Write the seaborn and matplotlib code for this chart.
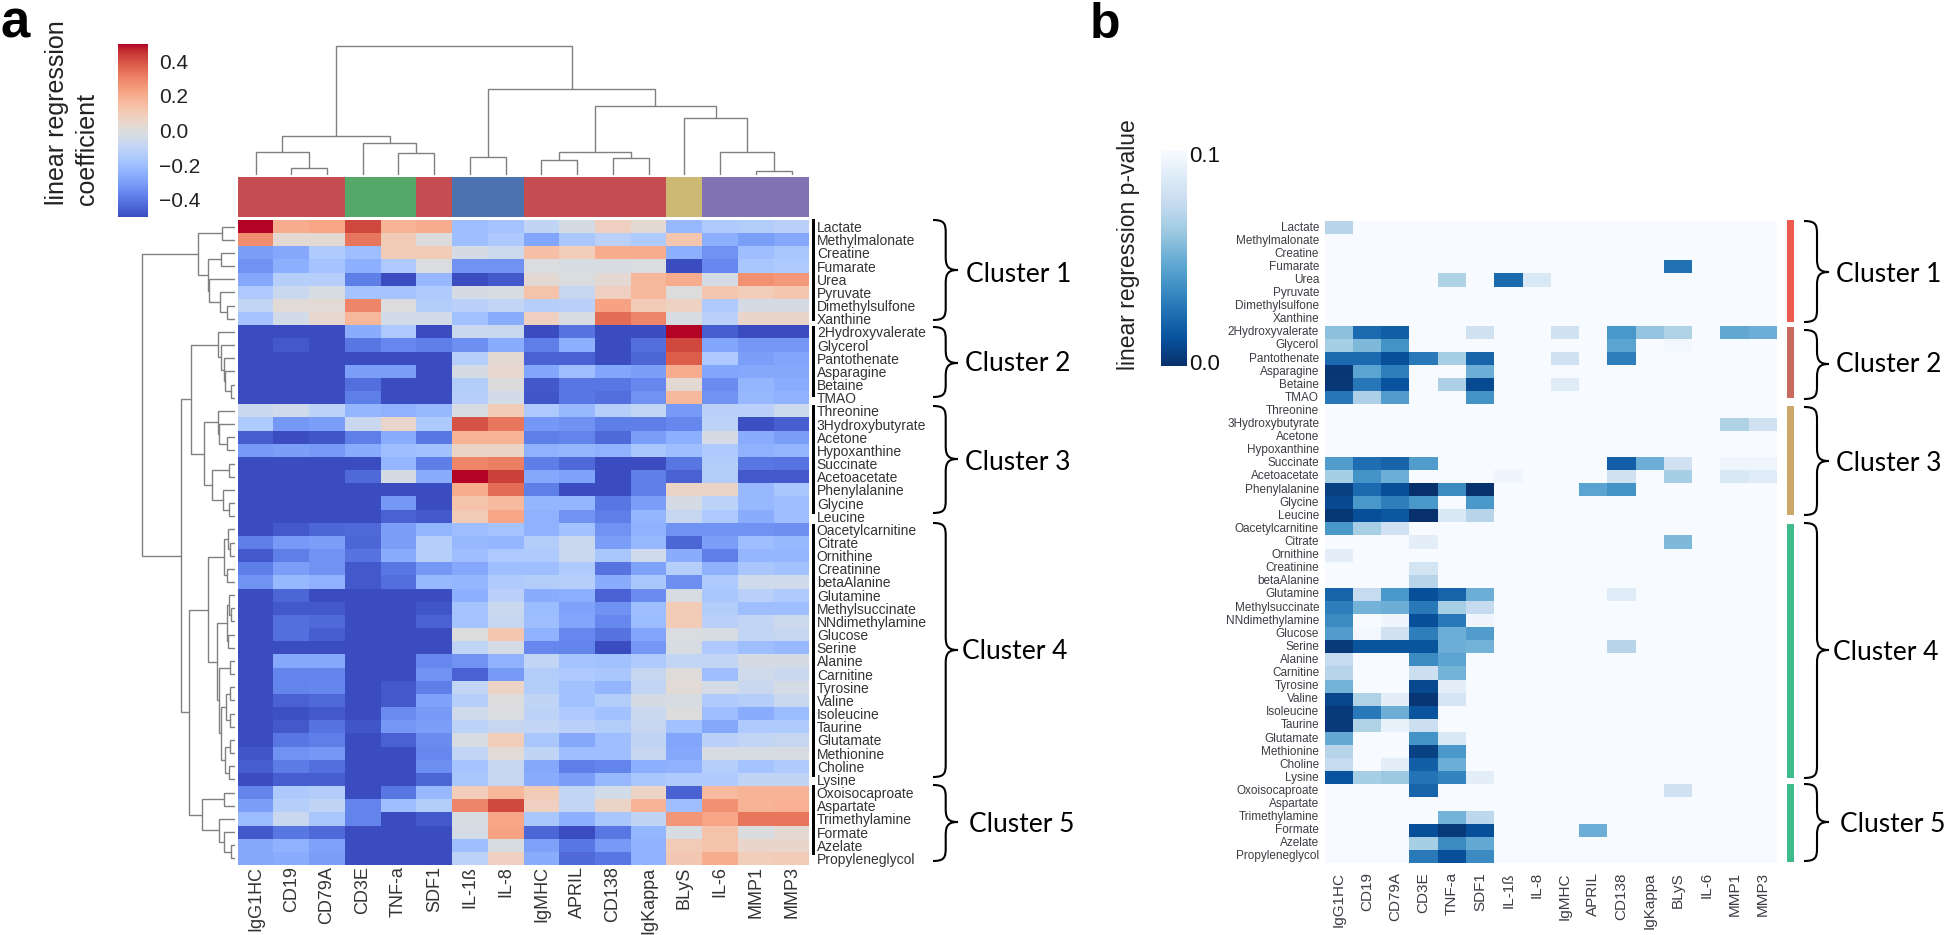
"""
Metabolite / immune marker regression heatmaps (panel a coefficients, panel b p-values)
"""
import matplotlib
matplotlib.use("Agg")
import matplotlib.pyplot as plt
from matplotlib.colors import ListedColormap
from matplotlib.patches import PathPatch, Rectangle
from matplotlib.path import Path
from matplotlib.transforms import Affine2D
import numpy as np
import pandas as pd
import seaborn as sns

sns.set_style("white")
plt.rcParams["font.family"] = ["Liberation Sans", "DejaVu Sans"]

W, H = 1946, 935

markers = ["IgG1HC", "CD19", "CD79A", "CD3E", "TNF-a", "SDF1", "IL-1ß", "IL-8",
           "IgMHC", "APRIL", "CD138", "IgKappa", "BLyS", "IL-6", "MMP1", "MMP3"]
metabolites = ["Lactate", "Methylmalonate", "Creatine", "Fumarate", "Urea", "Pyruvate",
               "Dimethylsulfone", "Xanthine",
               "2Hydroxyvalerate", "Glycerol", "Pantothenate", "Asparagine", "Betaine", "TMAO",
               "Threonine", "3Hydroxybutyrate", "Acetone", "Hypoxanthine", "Succinate",
               "Acetoacetate", "Phenylalanine", "Glycine", "Leucine",
               "Oacetylcarnitine", "Citrate", "Ornithine", "Creatinine", "betaAlanine",
               "Glutamine", "Methylsuccinate", "NNdimethylamine", "Glucose", "Serine",
               "Alanine", "Carnitine", "Tyrosine", "Valine", "Isoleucine", "Taurine",
               "Glutamate", "Methionine", "Choline", "Lysine",
               "Oxoisocaproate", "Aspartate", "Trimethylamine", "Formate", "Azelate",
               "Propyleneglycol"]

coef_cluster1 = [
    [.5, .2, .22, .42, .18, .2, -.2, -.18, -.1, -.03, .08, .03, -.22, -.15, -.14, -.12],
    [.28, .03, .03, .33, .1, 0, -.2, -.16, -.28, -.17, -.12, -.15, .12, -.25, -.3, -.27],
    [-.3, -.27, -.15, -.2, .1, .1, -.03, -.06, .14, .09, .2, .2, -.25, -.33, -.2, -.17],
    [-.33, -.25, -.18, -.25, -.16, -.01, -.33, -.33, -.01, -.02, -.02, -.01, -.5, -.36, -.17, -.15],
    [-.27, -.13, -.13, -.38, -.5, -.22, -.5, -.47, .03, -.01, .03, .17, .2, -.03, .27, .25],
    [-.16, -.07, -.02, -.18, -.18, -.15, -.03, -.02, .13, -.08, .08, .17, 0, .12, .09, .12],
    [-.09, .02, .02, .3, 0, -.14, -.12, -.09, -.13, -.12, .23, .1, .07, -.15, -.03, -.03],
    [-.18, -.04, .04, .17, -.04, -.04, -.19, -.26, .08, -.02, .35, .3, -.02, -.12, .05, .05],
]
coef_cluster2 = [
    [-.5, -.5, -.5, -.26, -.16, -.5, -.07, -.07, -.5, -.41, -.5, -.5, .5, -.46, -.5, -.5],
    [-.5, -.47, -.5, -.4, -.36, -.38, -.34, -.26, -.38, -.25, -.5, -.42, .42, -.28, -.32, -.32],
    [-.5, -.5, -.5, -.5, -.5, -.5, -.13, .03, -.45, -.45, -.5, -.44, .38, -.16, -.3, -.28],
    [-.5, -.5, -.5, -.3, -.3, -.5, -.03, .04, -.28, -.2, -.28, -.3, .2, -.28, -.27, -.27],
    [-.5, -.5, -.5, -.42, -.5, -.5, -.14, 0, -.47, -.4, -.4, -.36, .03, -.35, -.23, -.26],
    [-.5, -.5, -.5, -.38, -.5, -.5, -.13, -.04, -.48, -.4, -.42, -.33, .17, -.33, -.22, -.24],
]
coef_cluster3 = [
    [-.07, -.05, -.11, -.23, -.24, -.22, -.02, .1, -.16, -.22, -.13, -.09, -.31, -.12, -.12, -.06],
    [-.15, -.32, -.3, -.07, .05, -.16, .4, .33, -.32, -.33, -.38, -.38, -.36, -.11, -.49, -.46],
    [-.46, -.5, -.48, -.38, -.26, -.4, .18, .18, -.38, -.37, -.43, -.3, -.25, -.03, -.26, -.3],
    [-.31, -.3, -.31, -.26, -.2, -.19, .06, .06, -.24, -.23, -.24, -.17, -.2, -.16, -.24, -.23],
    [-.5, -.5, -.5, -.5, -.23, -.38, .3, .31, -.38, -.43, -.5, -.5, -.4, -.14, -.4, -.41],
    [-.5, -.5, -.5, -.43, -.03, -.26, .5, .43, -.27, -.29, -.5, -.38, -.45, -.14, -.47, -.47],
    [-.5, -.5, -.5, -.5, -.5, -.5, .2, .35, -.38, -.5, -.5, -.38, .06, .06, -.22, -.17],
    [-.5, -.5, -.5, -.5, -.32, -.5, .13, .16, -.23, -.23, -.4, -.3, -.03, -.11, -.22, -.2],
    [-.5, -.5, -.5, -.5, -.45, -.47, .1, .22, -.24, -.33, -.38, -.23, -.08, -.16, -.26, -.2],
]
coef_cluster4 = [
    [-.5, -.47, -.44, -.43, -.3, -.23, -.2, -.18, -.24, -.19, -.33, -.24, -.33, -.33, -.33, -.34],
    [-.38, -.31, -.3, -.44, -.3, -.13, -.22, -.23, -.14, -.07, -.3, -.22, -.44, -.3, -.2, -.22],
    [-.47, -.38, -.33, -.41, -.26, -.13, -.2, -.16, -.15, -.07, -.17, -.05, -.26, -.38, -.23, -.23],
    [-.38, -.3, -.33, -.47, -.4, -.32, -.27, -.2, -.2, -.15, -.41, -.29, -.13, -.24, -.17, -.19],
    [-.33, -.22, -.24, -.47, -.42, -.22, -.23, -.15, -.14, -.13, -.26, -.17, -.34, -.15, -.05, -.05],
    [-.5, -.44, -.5, -.5, -.5, -.5, -.25, -.12, -.26, -.25, -.45, -.35, -.02, -.17, -.12, -.15],
    [-.5, -.47, -.47, -.5, -.5, -.48, -.18, -.07, -.21, -.29, -.33, -.2, .1, -.14, -.2, -.2],
    [-.5, -.42, -.43, -.5, -.5, -.45, -.18, -.08, -.2, -.28, -.36, -.21, .1, -.12, -.09, -.06],
    [-.5, -.42, -.46, -.5, -.5, -.5, 0, .12, -.24, -.36, -.41, -.28, -.01, -.02, -.09, -.08],
    [-.5, -.5, -.5, -.5, -.5, -.5, -.1, -.03, -.36, -.37, -.5, -.32, -.02, -.16, -.2, -.22],
    [-.5, -.27, -.27, -.5, -.5, -.36, -.33, -.24, -.09, -.18, -.19, -.15, -.09, -.09, -.03, -.03],
    [-.5, -.37, -.37, -.5, -.5, -.33, -.45, -.31, -.14, -.16, -.17, -.08, .01, -.2, -.05, -.07],
    [-.5, -.37, -.36, -.5, -.47, -.38, -.09, .06, -.14, -.19, -.23, -.09, .02, -.03, -.07, -.03],
    [-.5, -.45, -.43, -.5, -.47, -.29, -.13, 0, -.1, -.19, -.14, -.03, -.02, -.15, -.13, -.07],
    [-.5, -.49, -.47, -.5, -.35, -.31, -.05, -.01, -.11, -.16, -.19, -.07, 0, -.2, -.26, -.21],
    [-.5, -.47, -.41, -.48, -.32, -.3, -.11, -.08, -.09, -.12, -.14, -.08, -.19, -.27, -.15, -.15],
    [-.5, -.4, -.38, -.5, -.45, -.35, -.02, .09, -.17, -.27, -.2, -.1, -.28, -.12, -.09, -.08],
    [-.48, -.33, -.32, -.5, -.5, -.36, -.09, .02, -.1, -.2, -.2, -.08, -.27, -.02, -.02, -.02],
    [-.46, -.39, -.42, -.5, -.5, -.34, -.18, -.08, -.27, -.38, -.37, -.25, -.24, -.13, -.18, -.15],
    [-.5, -.46, -.46, -.5, -.5, -.44, -.17, -.08, -.26, -.3, -.22, -.17, -.15, -.15, -.1, -.1],
]
coef_cluster5 = [
    [-.37, -.16, -.14, -.5, -.4, -.22, .09, .17, .1, -.09, -.04, .06, -.45, .16, .18, .18],
    [-.3, -.13, -.1, -.37, -.2, -.14, .3, .42, .08, -.09, .06, .18, -.2, .27, .18, .19],
    [-.21, -.07, -.17, -.37, -.5, -.47, -.02, .22, -.17, -.25, -.17, -.1, .26, .22, .33, .33],
    [-.47, -.4, -.43, -.5, -.5, -.5, -.03, .23, -.44, -.5, -.4, -.23, -.02, .13, -.01, .03],
    [-.27, -.24, -.29, -.5, -.5, -.5, -.2, -.02, -.29, -.4, -.31, -.24, .1, .13, .05, .05],
    [-.27, -.26, -.3, -.5, -.5, -.5, -.11, .08, -.26, -.43, -.4, -.24, .11, .2, .09, .1],
]

# 0.1 = not significant, shown at the pale end of the colour scale
N = 0.1
pval_cluster1 = [
    [.07, N, N, N, N, N, N, N, N, N, N, N, N, N, N, N],
    [N] * 16,
    [N] * 16,
    [N, N, N, N, N, N, N, N, N, N, N, N, .025, N, N, N],
    [N, N, N, N, .068, N, .022, .085, N, N, N, N, N, N, N, N],
    [N] * 16,
    [N] * 16,
    [N] * 16,
]
pval_cluster2 = [
    [.058, .022, .018, N, N, .08, N, N, .08, N, .04, .06, .068, N, .047, .05],
    [.065, .055, .038, N, N, N, N, N, N, N, .045, N, .097, N, N, N],
    [.022, .022, .012, .028, .065, .02, N, N, .08, N, .03, N, N, N, N, N],
    [.002, .045, .03, N, N, .05, N, N, N, N, N, N, N, N, N, N],
    [.003, .027, .013, N, .067, .01, N, N, .088, N, N, N, N, N, N, N],
    [.027, .067, .042, N, N, .038, N, N, N, N, N, N, N, N, N, N],
]
pval_cluster3 = [
    [N] * 16,
    [N, N, N, N, N, N, N, N, N, N, N, N, N, N, .068, .08],
    [N] * 16,
    [N] * 16,
    [.042, .024, .02, .042, N, N, N, N, N, N, .018, .05, .08, N, .095, .095],
    [.065, .038, .05, N, N, N, .095, N, N, N, .08, N, .065, N, .085, .088],
    [.006, .022, .012, 0, .035, .001, N, N, N, .045, .038, N, N, N, N, N],
    [.01, .04, .03, .04, N, .04, N, N, N, N, N, N, N, N, N, N],
    [.003, .012, .015, 0, .085, .07, N, N, N, N, N, N, N, N, N, N],
]
pval_cluster4 = [
    [.04, .065, .08, N, N, N, N, N, N, N, N, N, N, N, N, N],
    [N, N, N, .09, N, N, N, N, N, N, N, N, .055, N, N, N],
    [.09, N, N, N, N, N, N, N, N, N, N, N, N, N, N, N],
    [N, N, N, .082, N, N, N, N, N, N, N, N, N, N, N, N],
    [N, N, N, .07, N, N, N, N, N, N, N, N, N, N, N, N],
    [.02, .075, .04, .012, .02, .05, N, N, N, N, .088, N, N, N, N, N],
    [.03, .052, .05, .028, .065, .075, N, N, N, N, N, N, N, N, N, N],
    [.035, N, .095, .012, .028, .095, N, N, N, N, N, N, N, N, N, N],
    [.042, .097, .08, .03, .05, .042, N, N, N, N, N, N, N, N, N, N],
    [.004, .014, .014, .014, .05, .052, N, N, N, N, .07, N, N, N, N, N],
    [.075, N, N, .035, .045, N, N, N, N, N, N, N, N, N, N, N],
    [.07, N, N, .078, .052, N, N, N, N, N, N, N, N, N, N, N],
    [.052, N, N, .009, .09, N, N, N, N, N, N, N, N, N, N, N],
    [.008, .068, .09, .002, .083, N, N, N, N, N, N, N, N, N, N, N],
    [.004, .028, .05, .014, N, N, N, N, N, N, N, N, N, N, N, N],
    [.004, .068, .092, .078, N, N, N, N, N, N, N, N, N, N, N, N],
    [.048, N, N, .038, .085, N, N, N, N, N, N, N, N, N, N, N],
    [.07, N, N, .007, .04, N, N, N, N, N, N, N, N, N, N, N],
    [.075, N, .09, .018, .05, N, N, N, N, N, N, N, N, N, N, N],
    [.013, .065, .062, .026, .032, .09, N, N, N, N, N, N, N, N, N, N],
]
pval_cluster5 = [
    [N, N, N, .02, N, N, N, N, N, N, N, N, .08, N, N, N],
    [N] * 16,
    [N, N, N, N, .052, .072, N, N, N, N, N, N, N, N, N, N],
    [N, N, N, .012, .004, .012, N, N, N, .05, N, N, N, N, N, N],
    [N, N, N, .065, .035, .048, N, N, N, N, N, N, N, N, N, N],
    [N, N, N, .028, .012, .035, N, N, N, N, N, N, N, N, N, N],
]

# column colour groups: index into the deep6 palette
col_group = [2, 2, 2, 1, 1, 2, 0, 0, 2, 2, 2, 2, 4, 3, 3, 3]

# dendrograms, written as (merge height, left branch, right branch); ints are leaves
col_tree = (129, (39.3, (22.7, 0, (6.7, 1, 2)), (31.7, 3, (22, 4, 5))),
            (86.3, (17.7, 6, 7),
             (68.7, (23.3, (14.7, 8, 9), (16.7, 10, 11)),
              (57.3, 12, (23.3, 13, (3.7, 14, 15))))))
tree_c1 = (36.7, (13.3, 0, 1), (27.3, (14, 2, 3), (25.7, 4, (15, 5, (8.3, 6, 7)))))
tree_c2 = (17.3, 8, (14, 9, (11, 10, (9.7, 11, (4, 12, 13)))))
tree_c3 = (30.7, (17.3, 14, (15.7, 15, (8.3, 16, 17))),
           (22.7, (6.3, 18, 19), (11.7, 20, (5.7, 21, 22))))
tree_c4a = (11, (6.7, 23, (5, 24, 25)), (7.7, 26, 27))
tree_c4b = (8, (6, 28, (4.3, 29, 30)), (7.3, 31, 32))
tree_c4c = (13.7, (9.3, (5, 35, 36), (5, 37, 38)), (9.7, (5.3, 39, 40), (6, 41, 42)))
tree_c4 = (26.7, tree_c4a, (18.3, tree_c4b, (16.3, (4.7, 33, 34), tree_c4c)))
tree_c5 = (32.7, (11.3, 43, 44), (15.7, 45, (11.3, 46, (4, 47, 48))))
row_tree = (92.7, tree_c1, (53.7, (44, tree_c2, tree_c3), (46, tree_c4, tree_c5)))

cluster_names = ["Cluster 1", "Cluster 2", "Cluster 3", "Cluster 4", "Cluster 5"]
side_colors = ["#ec5a50", "#c96a60", "#cca86a", "#3fbb8c", "#3fbb8c"]

coef = pd.DataFrame(coef_cluster1 + coef_cluster2 + coef_cluster3 + coef_cluster4 + coef_cluster5,
                    index=metabolites, columns=markers)
pval = pd.DataFrame(pval_cluster1 + pval_cluster2 + pval_cluster3 + pval_cluster4 + pval_cluster5,
                    index=metabolites, columns=markers)

fig = plt.figure(figsize=(W / 100, H / 100), dpi=100)
pixels = Affine2D().scale(1 / W, -1 / H).translate(0, 1) + fig.transFigure


def add_ax(x0, y0, x1, y1):
    return fig.add_axes([x0 / W, 1 - y1 / H, (x1 - x0) / W, (y1 - y0) / H])


def draw_tree(ax, node, vertical):
    if isinstance(node, int):
        return node + 0.5, 0
    h, left, right = node
    pa, ha = draw_tree(ax, left, vertical)
    pb, hb = draw_tree(ax, right, vertical)
    pos, hts = [pa, pa, pb, pb], [ha, h, h, hb]
    if vertical:
        ax.plot(pos, hts, color="#808080", lw=1.0, solid_joinstyle="miter")
    else:
        ax.plot(hts, pos, color="#808080", lw=1.0, solid_joinstyle="miter")
    return (pa + pb) / 2, h


def brace(x0, xm, xt, y0, ym, y1, r=13):
    verts = [(x0, y0), (xm - 1, y0), (xm, y0 + 4), (xm, y0 + r),
             (xm, ym - r), (xm, ym - 3), (xm + 3, ym), (xt, ym),
             (xm + 3, ym), (xm, ym + 3), (xm, ym + r),
             (xm, y1 - r), (xm, y1 - 4), (xm - 1, y1), (x0, y1)]
    codes = [Path.MOVETO, Path.CURVE4, Path.CURVE4, Path.CURVE4,
             Path.LINETO, Path.CURVE4, Path.CURVE4, Path.CURVE4,
             Path.CURVE4, Path.CURVE4, Path.CURVE4,
             Path.LINETO, Path.CURVE4, Path.CURVE4, Path.CURVE4]
    fig.add_artist(PathPatch(Path(verts, codes), fill=False, edgecolor="black", lw=1.5,
                             transform=pixels))


def bar(x0, x1, y0, y1, color):
    fig.add_artist(Rectangle((x0, y0), x1 - x0, y1 - y0, facecolor=color, edgecolor="none",
                             transform=pixels))


def label(x, y, text, **kw):
    fig.text(x, y, text, transform=pixels, **kw)


# ---- panel a ----
ax_a = add_ax(237.7, 220, 809.4, 865)
cax_a = add_ax(117.5, 44, 148, 217)
sns.heatmap(coef, ax=ax_a, cbar_ax=cax_a, cmap="coolwarm", vmin=-0.5, vmax=0.5,
            xticklabels=True, yticklabels=True, linewidths=0,
            cbar_kws={"ticks": [-0.4, -0.2, 0.0, 0.2, 0.4]})
ax_a.yaxis.tick_right()
ax_a.tick_params(axis="y", length=0, pad=5.3, labelsize=10, labelrotation=0, labelcolor="#333333")
ax_a.tick_params(axis="x", length=0, pad=1.0, labelsize=13, labelrotation=90, labelcolor="#333333")
ax_a.set_xlabel("")
ax_a.set_ylabel("")
cax_a.tick_params(length=0, labelsize=15, pad=8, labelcolor="#222222")
for sp in cax_a.spines.values():
    sp.set_visible(False)

ax_col = add_ax(237.7, 177, 809.4, 217)
deep = sns.color_palette("deep6")
sns.heatmap(pd.DataFrame([col_group]), ax=ax_col, cmap=ListedColormap(deep), vmin=-0.5, vmax=5.5,
            cbar=False, xticklabels=False, yticklabels=False)

ax_top = add_ax(237.7, 40, 809.4, 175)
draw_tree(ax_top, col_tree, True)
ax_top.set_xlim(0, 16)
ax_top.set_ylim(0, 135)
ax_top.axis("off")

ax_left = add_ax(130, 220, 235, 865)
draw_tree(ax_left, row_tree, False)
ax_left.set_xlim(105, 0)
ax_left.set_ylim(49, 0)
ax_left.axis("off")

label(57, 205, "linear regression", rotation=90, fontsize=18, ha="center", va="bottom", color="#222222")
label(87, 205, "coefficient", rotation=90, fontsize=18, ha="center", va="bottom", color="#222222")

# ---- panel b ----
ax_b = add_ax(1324.6, 221, 1777, 863)
cax_b = add_ax(1161, 150, 1186.7, 366)
sns.heatmap(pval, ax=ax_b, cbar_ax=cax_b, cmap="Blues_r", vmin=0, vmax=0.1,
            xticklabels=True, yticklabels=True, linewidths=0,
            cbar_kws={"ticks": [0.002, 0.098]})
ax_b.tick_params(axis="y", length=0, pad=4, labelsize=8.5, labelrotation=0, labelcolor="#3c3c44")
ax_b.tick_params(axis="x", length=0, pad=6.5, labelsize=11, labelrotation=90, labelcolor="#3c3c44")
ax_b.set_xlabel("")
ax_b.set_ylabel("")
cax_b.set_yticklabels(["0.0", "0.1"])
cax_b.tick_params(length=0, labelsize=16, pad=1.5, labelcolor="#111111")
for sp in cax_b.spines.values():
    sp.set_visible(False)

label(1129, 370, "linear regression p-value", rotation=90, fontsize=16.5, ha="center", va="bottom",
      color="#222222")

# ---- cluster annotations, pixel positions ----
a_bars = [(219, 320.6), (326, 397), (405, 514), (524, 777), (785, 855)]
a_brace = [(220, 270, 320), (327, 363, 397), (406, 459, 513), (523, 650, 777), (785, 822, 861)]
a_text = [(965.7, 282), (965, 371), (965, 470), (962, 659), (969, 832)]
b_bars = [(220, 322), (327, 398), (406, 515), (524, 778), (784, 862)]
b_brace = [(221, 272, 322), (330, 364, 399), (407, 461, 515), (523, 650, 778), (784, 822, 861)]
b_text = [(1836, 282), (1836, 372), (1836, 471), (1833, 660), (1840, 832)]

for i, name in enumerate(cluster_names):
    bar(812.3, 815, a_bars[i][0], a_bars[i][1], "black")
    y0, ym, y1 = a_brace[i]
    brace(933, 945.7, 958, y0, ym, y1)
    label(a_text[i][0], a_text[i][1], name, family="Lato", fontsize=19, color="black", va="baseline")

    bar(1786.7, 1793.6, b_bars[i][0], b_bars[i][1], side_colors[i])
    y0, ym, y1 = b_brace[i]
    brace(1804, 1817, 1829, y0, ym, y1)
    label(b_text[i][0], b_text[i][1], name, family="Lato", fontsize=19, color="black", va="baseline")

label(0, 38, "a", fontsize=38, fontweight="bold", color="black", va="baseline")
label(1090, 38, "b", fontsize=36, fontweight="bold", color="black", va="baseline")

fig.savefig("out.png", dpi=100)
